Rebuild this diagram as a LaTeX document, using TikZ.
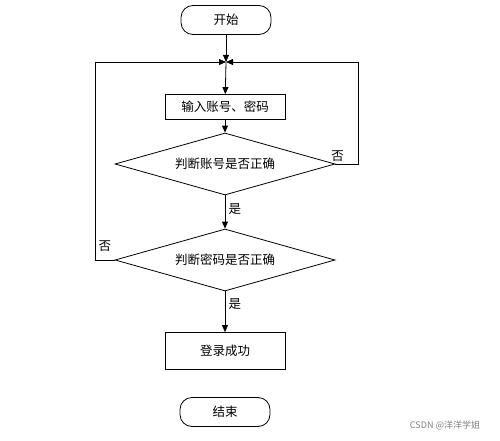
\documentclass[tikz,border=0pt]{standalone}
\usepackage{fontspec}
\setmainfont{Noto Sans CJK SC}
\usetikzlibrary{shapes.geometric,arrows.meta}
\begin{document}
\begin{tikzpicture}[x=1pt,y=-1pt,
  f/.style={font=\fontsize{12.5}{14}\selectfont},
  box/.style={draw,thick,minimum width=120pt,f},
  term/.style={draw,thick,rounded corners=12pt,minimum width=90pt,minimum height=29pt,f},
  dia/.style={draw,thick,diamond,aspect=3.4,minimum width=220pt,minimum height=62pt,inner sep=0pt,f},
  arr/.style={thick,-{Triangle[length=7pt,width=6pt]}},
  lab/.style={f}]
\useasboundingbox (0,0) rectangle (500,441);
\node[term] (s) at (226,20) {开始};
\coordinate (j) at (226,62);
\node[box,minimum height=25pt] (in) at (225,107) {输入账号、密码};
\node[dia] (d1) at (225,164) {判断账号是否正确};
\node[dia] (d2) at (225,260) {判断密码是否正确};
\node[box,minimum height=37pt] (ok) at (225,351) {登录成功};
\node[term] (e) at (225,412) {结束};
\draw[arr] (s) -- (j);
\draw[arr] (j) -- (in);
\draw[arr] (in) -- (d1);
\draw[arr] (d1) -- node[lab,right,pos=0.4]{是} (d2);
\draw[arr] (d2) -- node[lab,right,pos=0.3]{是} (ok);
\draw[arr] (d2.west) -- (95,260) -- node[lab,pos=0.07,right]{否} (95,62) -- (j);
\draw[arr] (d1.east) -- node[lab,above left=-1pt]{否} (358,164) -- (358,62) -- (j);
\node[font=\small,text=gray] (w) at (445,425) {CSDN @洋洋学姐};
\end{tikzpicture}
\end{document}
